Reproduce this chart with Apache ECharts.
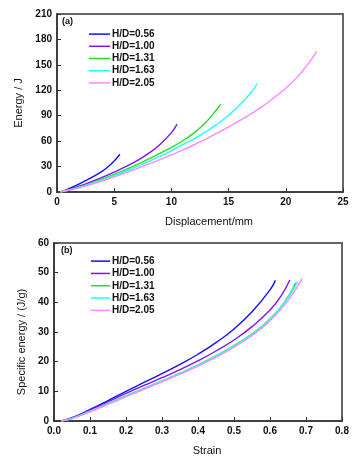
<!DOCTYPE html>
<html>
<head>
<meta charset="utf-8">
<script src="https://cdn.jsdelivr.net/npm/echarts@6/dist/echarts.min.js"></script>
<style>html,body{margin:0;padding:0;background:#fff;}#c{width:360px;height:458px;}</style>
</head>
<body>
<div id="c"></div>
<script>
// ---- Data ----
const seriesNames = ['H/D=0.56', 'H/D=1.00', 'H/D=1.31', 'H/D=1.63', 'H/D=2.05'];
const seriesColors = ['#1010ff', '#8010ff', '#22e022', '#22ffff', '#ff88ff'];

// (a) Energy (J) vs displacement (mm)
const energy056 = [[0.3,0],[1,3.8],[2,10],[3,17],[4,25],[4.5,30.3],[5,36.5],[5.5,44.5]];
const energy100 = [[0.3,0],[1,2.8],[2,7.2],[3,12.2],[4,17.6],[5,23.4],[6,29.8],[7,37],[8,45.5],[9,56],[10,70],[10.5,80]];
const energy131 = [[0.3,0],[1,2.4],[2,6],[3,10.5],[4,15.4],[5,20.7],[6,26.3],[7,32.3],[8,38.7],[9,45.5],[10,52.7],[11,60.5],[12,70],[13,82],[14,98],[14.3,103.5]];
const energy163 = [[0.3,0],[1,2.2],[2,5.6],[3,9.8],[4,14.4],[5,19.3],[6,24.5],[7,30],[8,35.8],[9,42],[10,48.6],[11,55.8],[12,63],[13,71],[14,80],[15,90.5],[16,103],[17,118],[17.5,128]];
const energy205 = [[0.3,0],[1,2],[2,5.2],[3,9],[4,13.2],[5,17.8],[6,22.6],[7,27.6],[8,32.8],[9,38.2],[10,43.8],[11,49.6],[12,55.8],[13,62.4],[14,69.4],[15,76.8],[16,84.5],[17,92.5],[18,101.5],[19,111.5],[20,122.5],[21,135.5],[22,152],[22.7,166]];

// (b) Specific energy (J/g) vs strain
const spec056 = [[0.02,0],[0.05,1.1],[0.1,3.9],[0.15,6.9],[0.2,10],[0.25,13],[0.3,16],[0.35,19.1],[0.4,22.5],[0.45,26.4],[0.5,31],[0.55,36.8],[0.6,44.2],[0.615,47.4]];
const spec100 = [[0.02,0],[0.05,1],[0.1,3.7],[0.15,6.5],[0.2,9.3],[0.25,12],[0.3,14.6],[0.35,17.3],[0.4,20.3],[0.45,23.6],[0.5,27.3],[0.55,31.8],[0.6,37.4],[0.63,42],[0.655,47.5]];
const spec131 = [[0.02,0],[0.05,0.9],[0.1,3.3],[0.15,5.9],[0.2,8.5],[0.25,11],[0.3,13.5],[0.35,16.1],[0.4,18.9],[0.45,22],[0.5,25.4],[0.55,29.4],[0.6,34.4],[0.64,40],[0.672,46.7]];
const spec163 = [[0.02,0],[0.05,0.9],[0.1,3.3],[0.15,5.8],[0.2,8.4],[0.25,10.9],[0.3,13.4],[0.35,16],[0.4,18.8],[0.45,21.9],[0.5,25.3],[0.55,29.2],[0.6,34.2],[0.64,39.8],[0.677,47]];
const spec205 = [[0.02,0],[0.05,0.8],[0.1,3.1],[0.15,5.6],[0.2,8.2],[0.25,10.7],[0.3,13.2],[0.35,15.8],[0.4,18.5],[0.45,21.5],[0.5,24.9],[0.55,28.8],[0.6,33.8],[0.65,40.6],[0.689,48]];

const energyData = [energy056, energy100, energy131, energy163, energy205];
const specData = [spec056, spec100, spec131, spec163, spec205];

// Tick settings
const energyTicks = {min: 0, max: 210, interval: 30};
const dispTicks = {min: 0, max: 25, interval: 5};
const specTicks = {min: 0, max: 60, interval: 10};
const strainTicks = {min: 0, max: 0.8, interval: 0.1};

// ---- Chart ----
const FONT = 'Liberation Sans, Arial, sans-serif';
const axisLine = {show: true, lineStyle: {color: '#333', width: 1.5}};
const axisTick = {show: true, inside: true, length: 4, lineStyle: {color: '#333'}};
const labelStyle = {color: '#111', fontSize: 10, fontWeight: 'bold', fontFamily: FONT};
const nameStyle = {color: '#111', fontSize: 11, fontFamily: FONT};

function mkSeries(dataArr, idx) {
  return dataArr.map((d, i) => ({
    type: 'line', name: seriesNames[i], xAxisIndex: idx, yAxisIndex: idx,
    data: d, showSymbol: false, smooth: true, silent: true,
    lineStyle: {color: seriesColors[i], width: 1.4},
    itemStyle: {color: seriesColors[i]}
  }));
}

const chart = echarts.init(document.getElementById('c'), null, {renderer: 'canvas'});
chart.setOption({
  animation: false,
  backgroundColor: '#fff',
  grid: [
    {left: 57, top: 14, right: 17, height: 178, show: true, borderColor: '#666', borderWidth: 2, containLabel: false},
    {left: 54, top: 243, right: 18, height: 178, show: true, borderColor: '#666', borderWidth: 2, containLabel: false}
  ],
  legend: [
    {data: seriesNames, orient: 'vertical', left: 84, top: 23, icon: 'rect', itemWidth: 21, itemHeight: 1.5, itemGap: 0,
     textStyle: {fontSize: 10, lineHeight: 12.2, color: '#111', fontFamily: FONT, fontWeight: 'bold', padding: [0, 0, 0, -3]}, selectedMode: false},
    {data: seriesNames, orient: 'vertical', left: 86, top: 250, icon: 'rect', itemWidth: 19, itemHeight: 1.5, itemGap: 0,
     textStyle: {fontSize: 10, lineHeight: 12.3, color: '#111', fontFamily: FONT, fontWeight: 'bold', padding: [0, 0, 0, -3]}, selectedMode: false}
  ],
  xAxis: [
    {type: 'value', gridIndex: 0, min: dispTicks.min, max: dispTicks.max, interval: dispTicks.interval,
     name: 'Displacement/mm', nameLocation: 'middle', nameGap: 24, nameTextStyle: Object.assign({}, nameStyle, {padding: [0, 0, 0, 18]}),
     axisLine, axisTick, splitLine: {show: false}, axisLabel: Object.assign({margin: 5}, labelStyle)},
    {type: 'value', gridIndex: 1, min: strainTicks.min, max: strainTicks.max, interval: strainTicks.interval,
     name: 'Strain', nameLocation: 'middle', nameGap: 24, nameTextStyle: Object.assign({}, nameStyle, {padding: [0, 0, 0, 18]}),
     axisLine, axisTick, splitLine: {show: false},
     axisLabel: Object.assign({margin: 5, formatter: v => v.toFixed(1)}, labelStyle)}
  ],
  yAxis: [
    {type: 'value', gridIndex: 0, min: energyTicks.min, max: energyTicks.max, interval: energyTicks.interval,
     name: 'Energy / J', nameLocation: 'middle', nameGap: 30, nameTextStyle: nameStyle,
     axisLine, axisTick, splitLine: {show: false}, axisLabel: Object.assign({margin: 5}, labelStyle)},
    {type: 'value', gridIndex: 1, min: specTicks.min, max: specTicks.max, interval: specTicks.interval,
     name: 'Specific energy / (J/g)', nameLocation: 'middle', nameGap: 26, nameTextStyle: Object.assign({}, nameStyle, {padding: [0, 20, 0, 0]}),
     axisLine, axisTick, splitLine: {show: false}, axisLabel: Object.assign({margin: 5}, labelStyle)}
  ],
  graphic: [
    {type: 'text', left: 62, top: 17, style: {text: '(a)', fontSize: 9, fontWeight: 'bold', fill: '#111', fontFamily: FONT}},
    {type: 'text', left: 61, top: 246, style: {text: '(b)', fontSize: 9, fontWeight: 'bold', fill: '#111', fontFamily: FONT}}
  ],
  series: mkSeries(energyData, 0).concat(mkSeries(specData, 1))
});
</script>
</body>
</html>
